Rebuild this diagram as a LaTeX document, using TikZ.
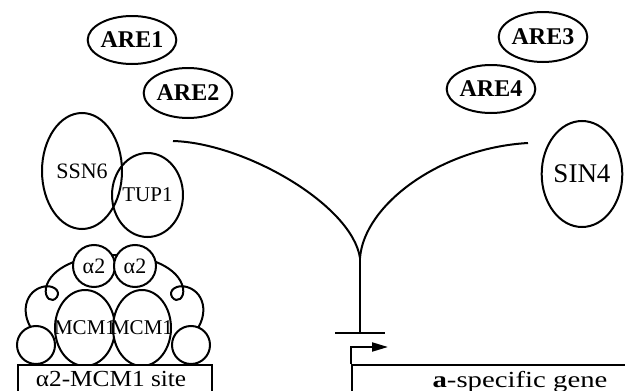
\documentclass[tikz,border=0pt]{standalone}
\usepackage{fontspec}
\usepackage{graphicx}
\setmainfont{Liberation Serif}
\usetikzlibrary{shapes.geometric,arrows.meta}
\begin{document}
\begin{tikzpicture}[x=1pt,y=-1pt, line width=2pt,
  prot/.style={draw, ellipse, inner sep=0pt, font=\fontsize{21}{22}\selectfont},
  are/.style={prot, font=\fontsize{24}{26}\selectfont\bfseries},
  wfill/.style={prot, fill=white},
  txt/.style={inner sep=0pt, font=\fontsize{21}{22}\selectfont},
  lbl/.style={font=\fontsize{23}{24}\selectfont, inner sep=0pt, anchor=base}]
\useasboundingbox (0,0) rectangle (625,391);
\begin{scope}
\clip (0,0) rectangle (625,391);
% activators
\node[are, minimum width=68, minimum height=48] (are1) at (132,40) {ARE1};
\node[are, minimum width=68, minimum height=50] (are2) at (188,93) {ARE2};
\node[are, minimum width=70, minimum height=50] (are3) at (543,37) {ARE3};
\node[are, minimum width=72, minimum height=48] (are4) at (491,89) {ARE4};
\node[prot, minimum width=76, minimum height=106, font=\fontsize{27}{28}\selectfont] (sin4) at (582,174) {SIN4};
% repressor complex
\node[prot, minimum width=80, minimum height=116, font=\fontsize{22}{24}\selectfont] (ssn6) at (82,171) {SSN6};
\node[prot, minimum width=59, minimum height=84] (tup1) at (147.5,195) {TUP1};
% arch with curled ends and side lobes
\coordinate (archT) at (115,255);
\draw (archT) .. controls (80,255) and (50,268) .. (46,288)
      .. controls (44,298) and (52,304) .. (57,297)
      .. controls (61,290) and (52,284) .. (42,287)
      .. controls (22,293) and (20,320) .. (38,336);
\draw (archT) .. controls (150,255) and (179,268) .. (183,288)
      .. controls (185,298) and (177,304) .. (172,297)
      .. controls (168,290) and (177,284) .. (187,287)
      .. controls (207,293) and (209,320) .. (191,336);
% lower circles, MCM1 and alpha2
\node[draw, fill=white, circle, minimum size=38, inner sep=0pt] (botL) at (36,345) {};
\node[draw, fill=white, circle, minimum size=38, inner sep=0pt] (botR) at (191,345) {};
\node[wfill, minimum width=60, minimum height=76] (mcmL) at (85,328) {};
\node[wfill, minimum width=58, minimum height=76] (mcmR) at (142,328) {};
\node[txt] (mcmLt) at (mcmL.center) {MCM1};
\node[txt] (mcmRt) at (mcmR.center) {MCM1};
\node[wfill, minimum width=42, minimum height=42, font=\fontsize{22}{24}\selectfont] (a2L) at (94,266) {α2};
\node[wfill, minimum width=42, minimum height=42, font=\fontsize{22}{24}\selectfont] (a2R) at (135,266) {α2};
% DNA boxes
\node[draw, fill=white, minimum width=194, minimum height=34, inner sep=0pt] (site) at (115,382) {};
\node[lbl] (sitetxt) at (111,386) {\scalebox{1.1}[1]{α2-MCM1 site}};
\node[draw, minimum width=316, minimum height=34, inner sep=0pt] (gene) at (510,382) {};
\node[lbl] (genetxt) at (520,387) {\scalebox{1.25}[1]{\textbf{a}-specific gene}};
% converging signal curves
\coordinate (cL) at (173,141);
\coordinate (cR) at (528,143);
\coordinate (cusp) at (360,258);
\coordinate (bar) at (360,333);
\coordinate (barL) at (335,333);
\coordinate (barR) at (385,333);
\draw (cL) .. controls (245,143) and (352,205) .. (cusp);
\draw (cusp) .. controls (364,205) and (440,148) .. (cR);
\draw (cusp) -- (bar);
\draw (barL) -- (barR);
% transcription start arrow
\draw[-{Triangle[length=16pt,width=9pt]}] (gene.north west) -- ++(0,-17) -- ++(37,0);
\end{scope}
\end{tikzpicture}
\end{document}
